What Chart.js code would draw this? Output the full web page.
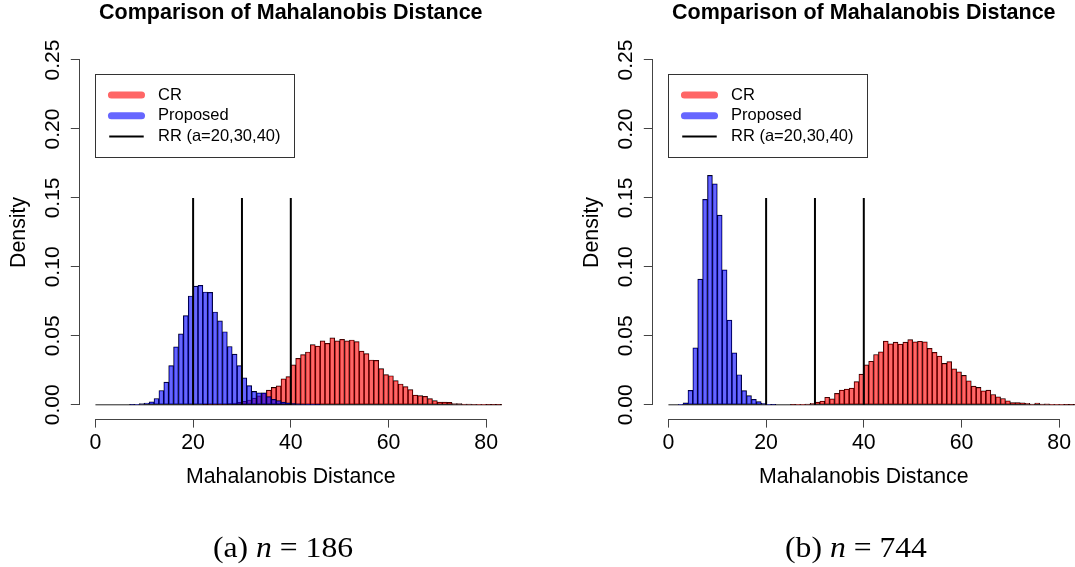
<!DOCTYPE html>
<html>
<head>
<meta charset="utf-8">
<script src="https://cdn.jsdelivr.net/npm/chart.js@4.4.1/dist/chart.umd.min.js"></script>
<style>
  html, body { margin: 0; padding: 0; background: #fff; }
  #wrap { position: relative; width: 1075px; height: 567px; overflow: hidden; background: #fff; }
  canvas { position: absolute; top: 0; }
  .cap { position: absolute; top: 531px; font-family: 'Liberation Serif', 'Times New Roman', serif; font-size: 28.8px; line-height: 32px; white-space: nowrap; color: #000; transform: translateX(-50%) scaleX(1.1); }
  .cap i { font-style: italic; }
  .cap .eq { margin: 0 0.25em; }
</style>
</head>
<body>
<div id="wrap">
  <canvas id="chartA" width="502" height="567" style="left:0px"></canvas>
  <canvas id="chartB" width="502" height="567" style="left:573px"></canvas>
  <div class="cap" style="left:283px">(a)&nbsp;<i>n</i><span class="eq">=</span>186</div>
  <div class="cap" style="left:856px">(b)&nbsp;<i>n</i><span class="eq">=</span>744</div>
</div>
<script>
// ---------------- data ----------------
const binMids = [
  0.5, 1.5, 2.5, 3.5, 4.5, 5.5, 6.5, 7.5, 8.5, 9.5,
  10.5, 11.5, 12.5, 13.5, 14.5, 15.5, 16.5, 17.5, 18.5, 19.5,
  20.5, 21.5, 22.5, 23.5, 24.5, 25.5, 26.5, 27.5, 28.5, 29.5,
  30.5, 31.5, 32.5, 33.5, 34.5, 35.5, 36.5, 37.5, 38.5, 39.5,
  40.5, 41.5, 42.5, 43.5, 44.5, 45.5, 46.5, 47.5, 48.5, 49.5,
  50.5, 51.5, 52.5, 53.5, 54.5, 55.5, 56.5, 57.5, 58.5, 59.5,
  60.5, 61.5, 62.5, 63.5, 64.5, 65.5, 66.5, 67.5, 68.5, 69.5,
  70.5, 71.5, 72.5, 73.5, 74.5, 75.5, 76.5, 77.5, 78.5, 79.5,
  80.5, 81.5, 82.5, 83.5
];
const binWidth = 1;

// (a) n = 186
const proposedA = [
  0, 0, 0, 0, 0, 0, 0, 0.0001, 0.0003, 0.0008,
  0.0012, 0.0022, 0.0046, 0.0104, 0.0164, 0.0285, 0.0420, 0.0514, 0.0647, 0.0789,
  0.0860, 0.0866, 0.0818, 0.0816, 0.0673, 0.0608, 0.0530, 0.0423, 0.0367, 0.0285,
  0.0195, 0.0140, 0.0097, 0.0087, 0.0087, 0.0060, 0.0040, 0.0030, 0.0020, 0.0015,
  0.0010, 0.0007, 0.0005, 0.0003, 0.0002, 0.0001, 0, 0, 0, 0,
  0, 0, 0, 0, 0, 0, 0, 0, 0, 0,
  0, 0, 0, 0, 0, 0, 0, 0, 0, 0,
  0, 0, 0, 0, 0, 0, 0, 0, 0, 0,
  0, 0, 0, 0
];
const crA = [
  0, 0, 0, 0, 0, 0, 0, 0, 0, 0,
  0, 0, 0, 0, 0, 0, 0, 0, 0, 0,
  0, 0, 0.0001, 0.0002, 0.0002, 0.0003, 0.0005, 0.0008, 0.0012, 0.0018,
  0.0025, 0.0035, 0.0048, 0.0065, 0.0085, 0.0106, 0.0126, 0.0137, 0.0188, 0.0205,
  0.0289, 0.0337, 0.0364, 0.0383, 0.0436, 0.0426, 0.0463, 0.0446, 0.0485, 0.0463,
  0.0475, 0.0463, 0.0470, 0.0458, 0.0390, 0.0371, 0.0325, 0.0322, 0.0262, 0.0219,
  0.0211, 0.0175, 0.0151, 0.0132, 0.0110, 0.0071, 0.0066, 0.0062, 0.0045, 0.0030,
  0.0020, 0.0020, 0.0018, 0.0008, 0.0008, 0.0006, 0.0005, 0.0004, 0.0003, 0.0002,
  0.0001, 0.0001, 0.0001, 0.0001
];

// (b) n = 744
const proposedB = [
  0, 0, 0.0003, 0.0015, 0.0105, 0.0413, 0.0911, 0.1490, 0.1663, 0.1602,
  0.1375, 0.0979, 0.0614, 0.0377, 0.0218, 0.0103, 0.0066, 0.0040, 0.0024, 0.0010,
  0.0003, 0.0001, 0, 0, 0, 0, 0, 0, 0, 0,
  0, 0, 0, 0, 0, 0, 0, 0, 0, 0,
  0, 0, 0, 0, 0, 0, 0, 0, 0, 0,
  0, 0, 0, 0, 0, 0, 0, 0, 0, 0,
  0, 0, 0, 0, 0, 0, 0, 0, 0, 0,
  0, 0, 0, 0, 0, 0, 0, 0, 0, 0,
  0, 0, 0, 0
];
const crB = [
  0, 0, 0, 0, 0, 0, 0, 0, 0, 0,
  0, 0, 0, 0, 0, 0, 0, 0, 0, 0,
  0, 0, 0, 0, 0, 0.0001, 0.0002, 0.0003, 0.0005, 0.0010,
  0.0020, 0.0027, 0.0055, 0.0043, 0.0083, 0.0107, 0.0114, 0.0121, 0.0168, 0.0222,
  0.0289, 0.0316, 0.0365, 0.0384, 0.0462, 0.0442, 0.0454, 0.0440, 0.0454, 0.0473,
  0.0457, 0.0461, 0.0457, 0.0410, 0.0380, 0.0353, 0.0300, 0.0314, 0.0261, 0.0239,
  0.0213, 0.0174, 0.0135, 0.0126, 0.0101, 0.0106, 0.0075, 0.0058, 0.0046, 0.0029,
  0.0017, 0.0017, 0.0014, 0.0010, 0.0005, 0.0012, 0.0005, 0.0007, 0.0002, 0.0002,
  0.0002, 0.0001, 0.0001, 0.0001
];

const rrCuts = [20, 30, 40];
const rrHeight = 0.15;

const xTickValues = [0, 20, 40, 60, 80];
const xTickLabels = ['0', '20', '40', '60', '80'];
const yTickValues = [0, 0.05, 0.10, 0.15, 0.20, 0.25];
const yTickLabels = ['0.00', '0.05', '0.10', '0.15', '0.20', '0.25'];

const seriesLabels = ['CR', 'Proposed', 'RR (a=20,30,40)'];
const chartTitle = 'Comparison of Mahalanobis Distance';
const xAxisTitle = 'Mahalanobis Distance';
const yAxisTitle = 'Density';

// ---------------- styling ----------------
const FONT = "'Liberation Sans', Arial, Helvetica, sans-serif";
const AXIS = '#444';
const RED = 'rgba(255,0,0,0.6)';
const BLUE = 'rgba(0,0,255,0.6)';

Chart.defaults.font.family = FONT;
Chart.defaults.color = '#000';

const rStyle = {
  id: 'rstyle',
  beforeDatasetsDraw(chart) {
    // zero-height histogram cells: R still draws their outline along the baseline
    const { ctx, chartArea: a, scales: { x, y } } = chart;
    ctx.save();
    ctx.beginPath();
    ctx.rect(a.left, a.top, a.right - a.left, a.bottom - a.top);
    ctx.clip();
    const yb = y.getPixelForValue(0);
    ctx.strokeStyle = '#222';
    ctx.lineWidth = 1;
    ctx.beginPath();
    ctx.moveTo(x.getPixelForValue(binMids[0] - binWidth / 2), yb);
    ctx.lineTo(x.getPixelForValue(binMids[binMids.length - 1] + binWidth / 2), yb);
    ctx.stroke();
    ctx.restore();
  },
  afterDraw(chart, args, opts) {
    const { ctx, chartArea: a, scales: { x, y } } = chart;
    ctx.save();
    // R-style axis lines spanning only the tick range
    ctx.strokeStyle = AXIS;
    ctx.lineWidth = 1;
    const yLine = Math.round(a.bottom) + 0.5;
    ctx.beginPath();
    ctx.moveTo(Math.round(x.getPixelForValue(xTickValues[0]) - 0.5) + 0.5, yLine);
    ctx.lineTo(Math.round(x.getPixelForValue(xTickValues[xTickValues.length - 1]) - 0.5) + 0.5, yLine);
    ctx.stroke();
    const xLine = Math.round(a.left) - 0.5;
    ctx.beginPath();
    ctx.moveTo(xLine, Math.round(y.getPixelForValue(yTickValues[0]) - 0.5) + 0.5);
    ctx.lineTo(xLine, Math.round(y.getPixelForValue(yTickValues[yTickValues.length - 1]) - 0.5) + 0.5);
    ctx.stroke();

    // legend box (placed at data coordinates, like R's legend(x, y))
    const L = x.getPixelForValue(opts.at.x);
    const T = y.getPixelForValue(opts.at.y);
    ctx.fillStyle = '#fff';
    ctx.fillRect(L, T, opts.width, opts.height);
    ctx.strokeStyle = '#333';
    ctx.lineWidth = 1;
    ctx.strokeRect(Math.round(L) + 0.5, Math.round(T) + 0.5, Math.round(opts.width), Math.round(opts.height));
    chart.data.datasets.forEach((ds, i) => {
      const yy = T + opts.rows[i];
      ctx.beginPath();
      if (ds.type === 'line') {
        ctx.strokeStyle = ds.borderColor;
        ctx.lineWidth = 2;
        ctx.lineCap = 'butt';
        ctx.moveTo(L + opts.lineFrom, yy);
        ctx.lineTo(L + opts.lineTo, yy);
      } else {
        ctx.strokeStyle = ds.backgroundColor;
        ctx.lineWidth = 7;
        ctx.lineCap = 'round';
        ctx.moveTo(L + opts.lineFrom + 2.2, yy);
        ctx.lineTo(L + opts.lineTo - 2.2, yy);
      }
      ctx.stroke();
      ctx.fillStyle = '#000';
      ctx.font = opts.fontSize + 'px ' + FONT;
      ctx.textAlign = 'left';
      ctx.textBaseline = 'middle';
      ctx.fillText(ds.label, L + opts.textX, yy);
    });
    ctx.restore();
  }
};

function makeChart(id, cr, prop) {
  const rrPoints = [];
  rrCuts.forEach(c => {
    rrPoints.push({ x: c, y: 0 }, { x: c, y: rrHeight }, { x: c, y: null });
  });
  const barCommon = {
    borderColor: '#000',
    borderWidth: 0.55,
    borderSkipped: false,
    grouped: false,
    barPercentage: 1,
    categoryPercentage: 1
  };
  return new Chart(document.getElementById(id), {
    type: 'bar',
    data: {
      datasets: [
        Object.assign({ label: seriesLabels[0], data: binMids.map((m, i) => ({ x: m, y: cr[i] })), backgroundColor: RED, order: 2 }, barCommon),
        Object.assign({ label: seriesLabels[1], data: binMids.map((m, i) => ({ x: m, y: prop[i] })), backgroundColor: BLUE, order: 1 }, barCommon),
        { type: 'line', label: seriesLabels[2], data: rrPoints, borderColor: '#000', borderWidth: 2, pointRadius: 0, spanGaps: false, fill: false, order: 0 }
      ]
    },
    options: {
      responsive: false,
      animation: false,
      events: [],
      layout: { padding: { left: 0, right: 0.2, top: 0, bottom: 0 } },
      plugins: {
        legend: { display: false },
        tooltip: { enabled: false },
        title: {
          display: true, text: chartTitle, fullSize: false, color: '#000',
          font: { family: FONT, size: 21.5, weight: 'bold', lineHeight: 1.2 },
          padding: { top: 0, bottom: 20.4 }
        },
        rstyle: {
          at: { x: 0, y: 0.24 }, width: 198.7, height: 82.9,
          rows: [21.2, 41.9, 62.6], lineFrom: 13.8, lineTo: 48.3, textX: 62.6, fontSize: 16.5
        }
      },
      scales: {
        x: {
          type: 'linear', min: -3.2, max: 83.2, bounds: 'data', offset: false,
          afterBuildTicks: s => { s.ticks = xTickValues.map(v => ({ value: v })); },
          afterFit: s => { s.height = 148.4; },
          grid: { display: true, drawOnChartArea: false, drawTicks: true, tickLength: 9, tickColor: AXIS, tickWidth: 1, offset: false },
          border: { display: false },
          ticks: { color: '#000', font: { family: FONT, size: 21.3 }, padding: 2.8, minRotation: 0, maxRotation: 0, autoSkip: false,
                   callback: (v, i) => xTickLabels[i] },
          title: { display: true, text: xAxisTitle, color: '#000', font: { family: FONT, size: 21.3, lineHeight: 1.2 }, padding: { top: 0, bottom: 76.7 } }
        },
        y: {
          type: 'linear', min: -0.01, max: 0.26, bounds: 'data',
          afterBuildTicks: s => { s.ticks = yTickValues.map(v => ({ value: v })); },
          afterFit: s => { s.width = 79.8; },
          grid: { display: true, drawOnChartArea: false, drawTicks: true, tickLength: 9, tickColor: AXIS, tickWidth: 1 },
          border: { display: false },
          ticks: { color: '#000', font: { family: FONT, size: 21 }, padding: -3.3, minRotation: 90, maxRotation: 90, crossAlign: 'center', autoSkip: false,
                   callback: (v, i) => yTickLabels[i] },
          title: { display: true, text: yAxisTitle, color: '#000', font: { family: FONT, size: 21.3, lineHeight: 1.2 }, padding: { top: 5.9, bottom: 0 } }
        }
      }
    },
    plugins: [rStyle]
  });
}

makeChart('chartA', crA, proposedA);
makeChart('chartB', crB, proposedB);
</script>
</body>
</html>
